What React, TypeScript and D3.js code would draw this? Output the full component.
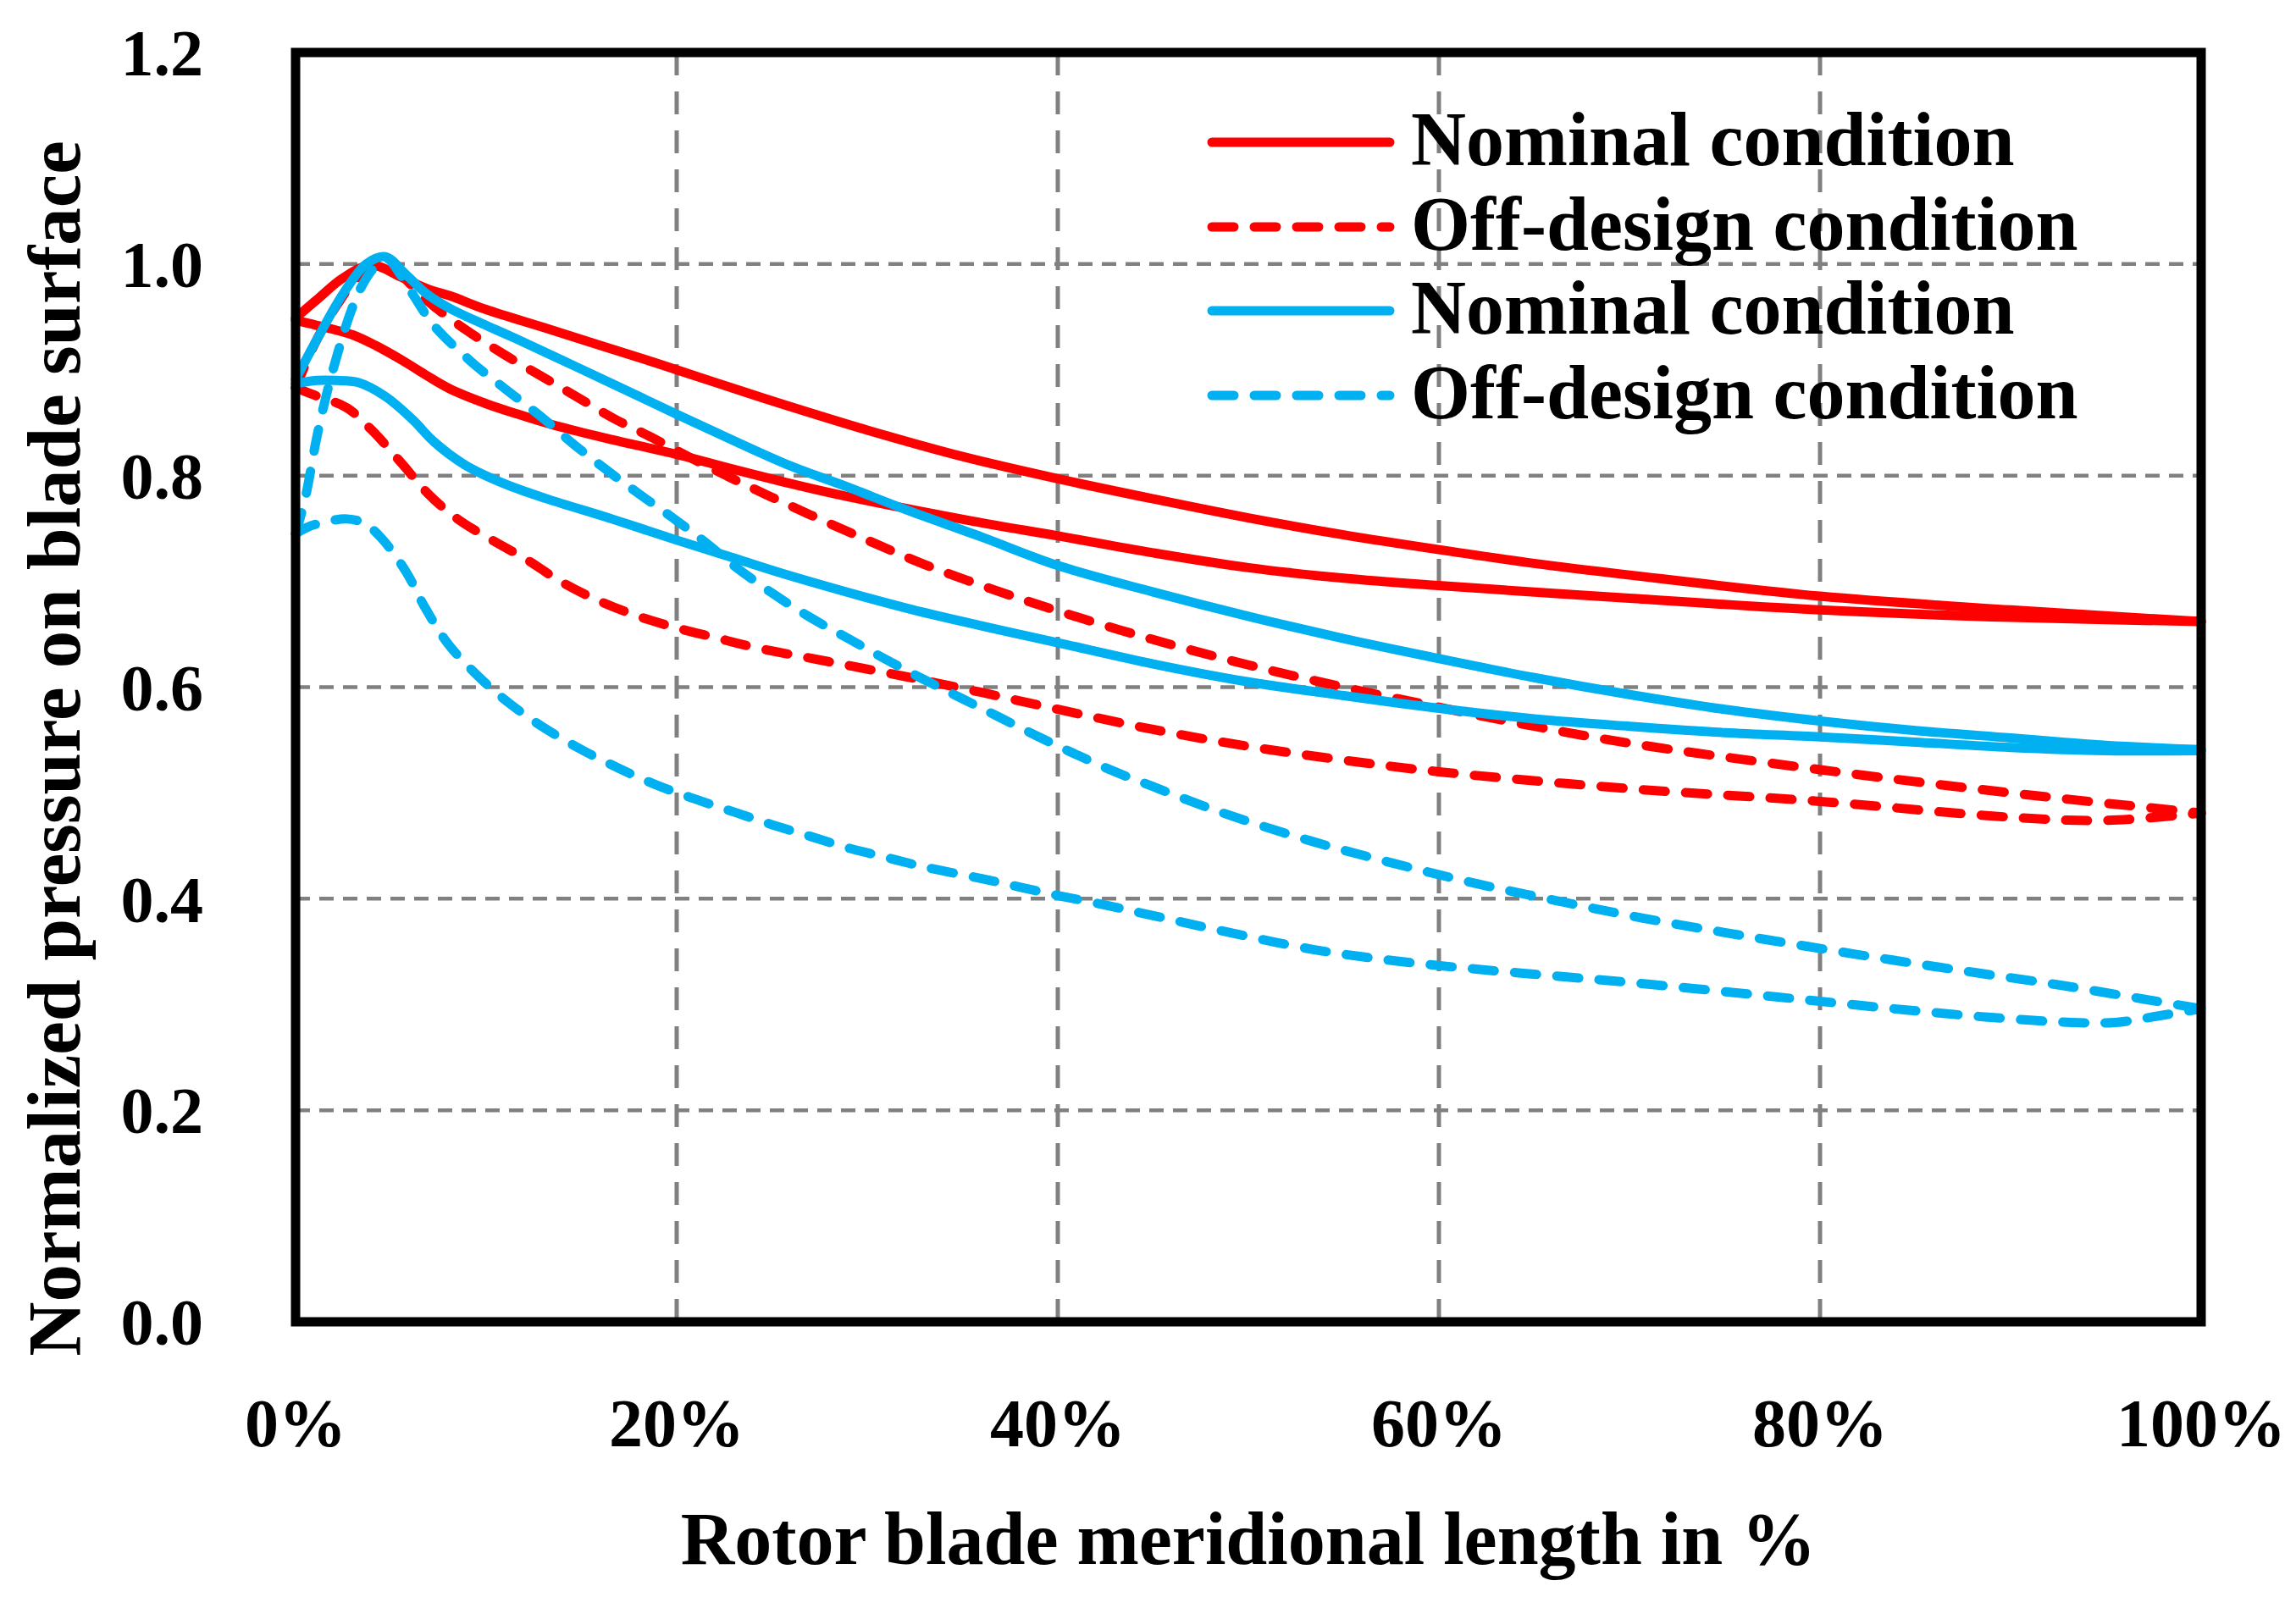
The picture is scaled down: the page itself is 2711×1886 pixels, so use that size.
import React from "react";
import * as d3 from "d3";

// axis ticks
const xTicks = [0, 20, 40, 60, 80, 100];
const yTicks = [0, 0.2, 0.4, 0.6, 0.8, 1.0, 1.2];
const legendLabels = ["Nominal condition", "Off-design condition", "Nominal condition", "Off-design condition"];

// [meridional length %, normalized pressure], upper and lower branch of each curve
const redNominalUpper = [
  [0, 0.949], [1.1, 0.966], [2.5, 0.987], [4, 0.999], [5.5, 0.988], [7, 0.976], [8.1, 0.97], [10, 0.957],
  [13.2, 0.939], [16, 0.923], [18.3, 0.91], [20, 0.9], [23.4, 0.88], [26, 0.865], [30, 0.843], [35, 0.818],
  [40, 0.797], [45, 0.778], [50, 0.76], [55, 0.744], [60, 0.73], [65, 0.717], [70, 0.706], [80, 0.686],
  [90, 0.673], [100, 0.662],
];
const redNominalLower = [
  [0, 0.947], [1.8, 0.939], [3, 0.933], [4.2, 0.923], [5.5, 0.91], [6.4, 0.9], [8.1, 0.882], [10, 0.868],
  [11.5, 0.859], [13.5, 0.848], [16.6, 0.834], [20, 0.82], [23.4, 0.804], [26.3, 0.791], [29, 0.78],
  [35.5, 0.757], [40, 0.743], [45, 0.727], [50, 0.713], [55, 0.703], [60, 0.696], [70, 0.684], [80, 0.673],
  [90, 0.666], [100, 0.662],
];
const redOffUpper = [
  [0, 0.883], [1.1, 0.928], [2.2, 0.962], [3.3, 0.988], [4.5, 1.0], [5.5, 0.99], [6.5, 0.972], [7.4, 0.958],
  [9, 0.937], [10.9, 0.915], [12.9, 0.894], [14.8, 0.874], [16.7, 0.854], [18.7, 0.836], [20.6, 0.818],
  [22.6, 0.8], [24.7, 0.782], [27, 0.763], [30, 0.739], [33, 0.716], [36.5, 0.693], [40, 0.672],
  [45, 0.645], [50, 0.621], [55, 0.6], [60, 0.581], [65, 0.563], [70, 0.547], [80, 0.522], [90, 0.5],
  [100, 0.481],
];
const redOffLower = [
  [0, 0.883], [1, 0.876], [2.7, 0.864], [4, 0.843], [5.5, 0.813], [7, 0.782], [8.5, 0.759], [10.5, 0.737],
  [12, 0.722], [14, 0.699], [16, 0.681], [18, 0.667], [20, 0.656], [22, 0.647], [24, 0.638], [28, 0.624],
  [32, 0.61], [36, 0.595], [40, 0.579], [45, 0.56], [50, 0.544], [55, 0.531], [60, 0.52], [70, 0.504],
  [80, 0.492], [90, 0.477], [95, 0.474], [100, 0.481],
];
const blueNominalUpper = [
  [0, 0.891], [1.1, 0.928], [2.5, 0.972], [3.7, 1.0], [4.7, 1.007], [5.8, 0.99], [6.8, 0.973], [8.1, 0.958],
  [10, 0.942], [11.5, 0.93], [14, 0.909], [16.6, 0.887], [20, 0.858], [23, 0.833], [26, 0.809], [29, 0.789],
  [32, 0.768], [36, 0.742], [40, 0.715], [45, 0.69], [50, 0.667], [55, 0.646], [60, 0.627], [65, 0.609],
  [70, 0.593], [75, 0.579], [80, 0.568], [85, 0.559], [90, 0.552], [95, 0.545], [100, 0.541],
];
const blueNominalLower = [
  [0, 0.887], [1.1, 0.89], [2.1, 0.89], [3.3, 0.888], [4.7, 0.875], [6.2, 0.852], [7.2, 0.833], [8.9, 0.81],
  [11, 0.792], [13.2, 0.778], [16.6, 0.759], [20, 0.739], [23, 0.722], [26, 0.705], [32, 0.675], [36, 0.658],
  [40, 0.642], [45, 0.622], [50, 0.605], [55, 0.592], [60, 0.58], [65, 0.57], [70, 0.563], [75, 0.557],
  [80, 0.553], [85, 0.548], [90, 0.543], [95, 0.54], [100, 0.54],
];
const blueOffUpper = [
  [0, 0.745], [0.5, 0.778], [1.1, 0.835], [1.6, 0.875], [2.2, 0.915], [2.9, 0.955], [3.5, 0.98], [4.2, 0.998],
  [4.8, 1.005], [5.5, 0.99], [6.2, 0.97], [7.3, 0.941], [9.2, 0.908], [11, 0.882], [13, 0.854], [14.5, 0.831],
  [16.2, 0.807], [18, 0.783], [19.8, 0.76], [21.5, 0.737], [23, 0.715], [25, 0.689], [27, 0.666], [29, 0.646],
  [31, 0.626], [33, 0.607], [35, 0.589], [37, 0.571], [39, 0.553], [41, 0.536], [43, 0.52], [45, 0.506],
  [47, 0.492], [49, 0.479], [53.2, 0.455], [57.5, 0.434], [61.8, 0.415], [66.2, 0.398], [70.6, 0.382],
  [75, 0.368], [79.3, 0.355], [83.8, 0.342], [88.2, 0.33], [92.7, 0.318], [97, 0.305], [100, 0.296],
];
const blueOffLower = [
  [0, 0.745], [0.6, 0.751], [1.5, 0.756], [2.7, 0.759], [3.6, 0.755], [4.5, 0.741], [5.8, 0.709], [6.8, 0.675],
  [8, 0.641], [9.6, 0.61], [11.2, 0.585], [13, 0.562], [15, 0.541], [17, 0.523], [19, 0.507], [21, 0.494],
  [23, 0.482], [25, 0.47], [27, 0.459], [29, 0.448], [31, 0.439], [33, 0.43], [36, 0.419], [38, 0.411],
  [40, 0.403], [42.5, 0.394], [44.5, 0.386], [46.5, 0.378], [48.5, 0.37], [53.4, 0.352], [57.8, 0.341],
  [62.2, 0.333], [66.7, 0.326], [71.1, 0.319], [75.6, 0.311], [80, 0.303], [84.4, 0.295], [88.8, 0.288],
  [93.2, 0.283], [95.5, 0.283], [97.7, 0.289], [100, 0.296],
];

const RED = "#FF0000";
const BLUE = "#00B0F0";
const DASH = "26 24";

const series = [
  { upper: redNominalUpper, lower: redNominalLower, color: RED, dash: null },
  { upper: redOffUpper, lower: redOffLower, color: RED, dash: DASH },
  { upper: blueNominalUpper, lower: blueNominalLower, color: BLUE, dash: null },
  { upper: blueOffUpper, lower: blueOffLower, color: BLUE, dash: DASH },
];

const W = 2711;
const H = 1886;
const margin = { left: 349, right: 112, top: 62, bottom: 325 };
const FONT = "'Liberation Serif', 'Times New Roman', serif";

const App = () => {
  const x = d3.scaleLinear().domain([0, 100]).range([margin.left, W - margin.right]);
  const y = d3.scaleLinear().domain([0, 1.2]).range([H - margin.bottom, margin.top]);

  const line = d3
    .line<number[]>()
    .x((d) => x(d[0]))
    .y((d) => y(d[1]))
    .curve(d3.curveCatmullRom.alpha(0.5));

  //legend rows
  const legendY = [168, 268, 367, 467];

  return (
    <svg width={W} height={H} style={{ position: "absolute", left: 0, top: 0, background: "#fff" }}>
      <rect x={0} y={0} width={W} height={H} fill="#fff" />
      {/* grid */}
      {xTicks.slice(1, -1).map((t) => (
        <line key={"gx" + t} x1={x(t)} x2={x(t)} y1={y(1.2)} y2={y(0)} stroke="#808080" strokeWidth={5} strokeDasharray="27 19" />
      ))}
      {yTicks.slice(1, -1).map((t) => (
        <line key={"gy" + t} x1={x(0)} x2={x(100)} y1={y(t)} y2={y(t)} stroke="#808080" strokeWidth={4.5} strokeDasharray="17 11" />
      ))}

      {/* curves */}
      {series.map((s, i) => (
        <g key={"s" + i}>
          {[s.upper, s.lower].map((branch, j) => (
            <path
              key={j}
              d={line(branch as number[][]) || ""}
              fill="none"
              stroke={s.color}
              strokeWidth={11}
              strokeLinecap="round"
              strokeLinejoin="round"
              strokeDasharray={s.dash || undefined}
            />
          ))}
        </g>
      ))}

      {/* frame */}
      <rect
        x={x(0)}
        y={y(1.2)}
        width={x(100) - x(0)}
        height={y(0) - y(1.2)}
        fill="none"
        stroke="#000"
        strokeWidth={11}
      />

      {/* y ticks */}
      {yTicks.map((t) => (
        <text key={"ty" + t} x={240} y={y(t)} dy="0.35em" textAnchor="end" fontFamily={FONT} fontWeight="bold" fontSize={78}>
          {t.toFixed(1)}
        </text>
      ))}
      {/* x ticks */}
      {xTicks.map((t) => (
        <text key={"tx" + t} x={x(t)} y={1708} textAnchor="middle" fontFamily={FONT} fontWeight="bold" fontSize={80}>
          {t + "%"}
        </text>
      ))}

      {/* axis titles */}
      <text x={(x(0) + x(100)) / 2} y={1847} textAnchor="middle" fontFamily={FONT} fontWeight="bold" fontSize={88}>
        Rotor blade meridional length in %
      </text>
      <text
        transform={`translate(94, 884) rotate(-90)`}
        textAnchor="middle"
        fontFamily={FONT}
        fontWeight="bold"
        fontSize={89}
      >
        Normalized pressure on blade surface
      </text>

      {/* legend */}
      {series.map((s, i) => (
        <g key={"lg" + i} transform={`translate(1426, ${legendY[i]})`}>
          <line
            x1={5}
            x2={215}
            y1={0}
            y2={0}
            stroke={s.color}
            strokeWidth={11}
            strokeLinecap="round"
            strokeDasharray={s.dash || undefined}
          />
          <text x={240} y={0} dy="0.3em" fontFamily={FONT} fontWeight="bold" fontSize={90}>
            {legendLabels[i]}
          </text>
        </g>
      ))}
    </svg>
  );
};

export default App;
